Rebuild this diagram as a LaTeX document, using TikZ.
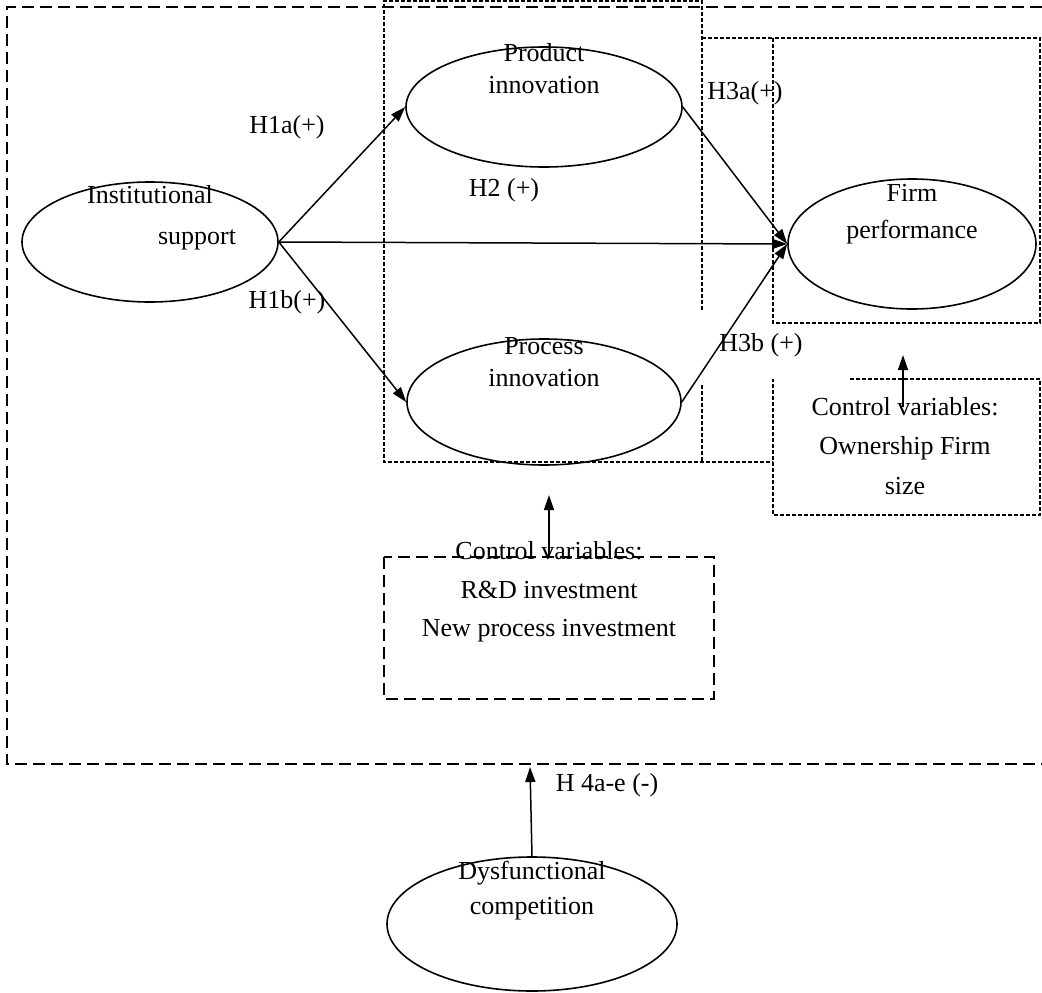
\documentclass[tikz,border=0pt]{standalone}
\usepackage{fontspec}
\setmainfont{Liberation Serif}
\usetikzlibrary{arrows.meta,shapes.geometric}
\begin{document}
\begin{tikzpicture}[x=1pt,y=-1pt,
  ell/.style={draw,ellipse,line width=1.6pt,inner sep=0pt},
  txt/.style={font=\fontsize{26}{30}\selectfont,inner sep=0pt,text height=18pt,text depth=6pt},
  arr/.style={line width=1.5pt,-{Triangle[length=15pt,width=10pt]}},
  longdash/.style={line width=1.5pt,dash pattern=on 12pt off 6pt},
  shortdash/.style={line width=1.3pt,dash pattern=on 4pt off 2pt}
]
\useasboundingbox (0,0) rectangle (1042,993);

% outer moderated box
\draw[longdash] (1042,7) -- (7,7) -- (7,764) -- (1042,764);

% innovation box
\draw[shortdash] (702,310) -- (702,1) -- (384,1) -- (384,462) -- (773,462);
\draw[shortdash] (702,385) -- (702,462);
% middle strip top
\draw[shortdash] (702,38) -- (773,38);
% firm performance box
\draw[shortdash] (773,38) rectangle (1040,323);
% right control box
\draw[shortdash] (850,379) -- (1040,379) -- (1040,515) -- (773,515) -- (773,379);

% middle control box
\draw[longdash] (384,557) rectangle (714,699);

% ellipses
\node[ell,minimum width=256pt,minimum height=120pt] (inst) at (150,242) {};
\node[ell,minimum width=276pt,minimum height=120pt] (prod) at (544,107) {};
\node[ell,minimum width=274pt,minimum height=126pt] (proc) at (544,402) {};
\node[ell,minimum width=248pt,minimum height=130pt] (firm) at (912,244) {};
\node[ell,minimum width=290pt,minimum height=134pt] (dys) at (532,924) {};

% ellipse texts
\node[txt] (instA) at (150,197) {Institutional};
\node[txt] (instB) at (197,238) {support};
\node[txt] (prodA) at (544,55) {Product};
\node[txt] (prodB) at (544,87) {innovation};
\node[txt] (procA) at (544,348) {Process};
\node[txt] (procB) at (544,380) {innovation};
\node[txt] (firmA) at (912,195) {Firm};
\node[txt] (firmB) at (912,232) {performance};
\node[txt] (dysA) at (532,873) {Dysfunctional};
\node[txt] (dysB) at (532,908) {competition};

% hypothesis labels
\node[txt] (h1a) at (287,127) {H1a(+)};
\node[txt] (h1b) at (287,302) {H1b(+)};
\node[txt] (h2) at (504,190) {H2 (+)};
\node[txt] (h3a) at (745,93) {H3a(+)};
\node[txt] (h3b) at (761,345) {H3b (+)};
\node[txt] (h4) at (607,785) {H 4a-e (-)};

% control variable texts
\node[txt] (cvA) at (549,553) {Control variables:};
\node[txt] (cvB) at (549,592) {R\&D investment};
\node[txt] (cvC) at (549,630) {New process investment};
\node[txt] (crA) at (905,409) {Control variables:};
\node[txt] (crB) at (905,448) {Ownership Firm};
\node[txt] (crC) at (905,488) {size};

% main arrows
\draw[arr] (inst.east) -- (prod.west);
\draw[arr] (inst.east) -- (proc.west);
\draw[arr] (inst.east) -- (firm.west);
\draw[arr] (prod.east) -- (firm.west);
\draw[arr] (proc.east) -- (firm.west);

% control arrows
\coordinate (cmStart) at (549,557);
\coordinate (cmEnd) at (549,495);
\draw[arr] (cmStart) -- (cmEnd);
\coordinate (crStart) at (903,407);
\coordinate (crEnd) at (903,355);
\draw[arr] (crStart) -- (crEnd);

% moderator arrow
\coordinate (dysEnd) at (530,767);
\draw[arr] (dys.north) -- (dysEnd);
\end{tikzpicture}
\end{document}
